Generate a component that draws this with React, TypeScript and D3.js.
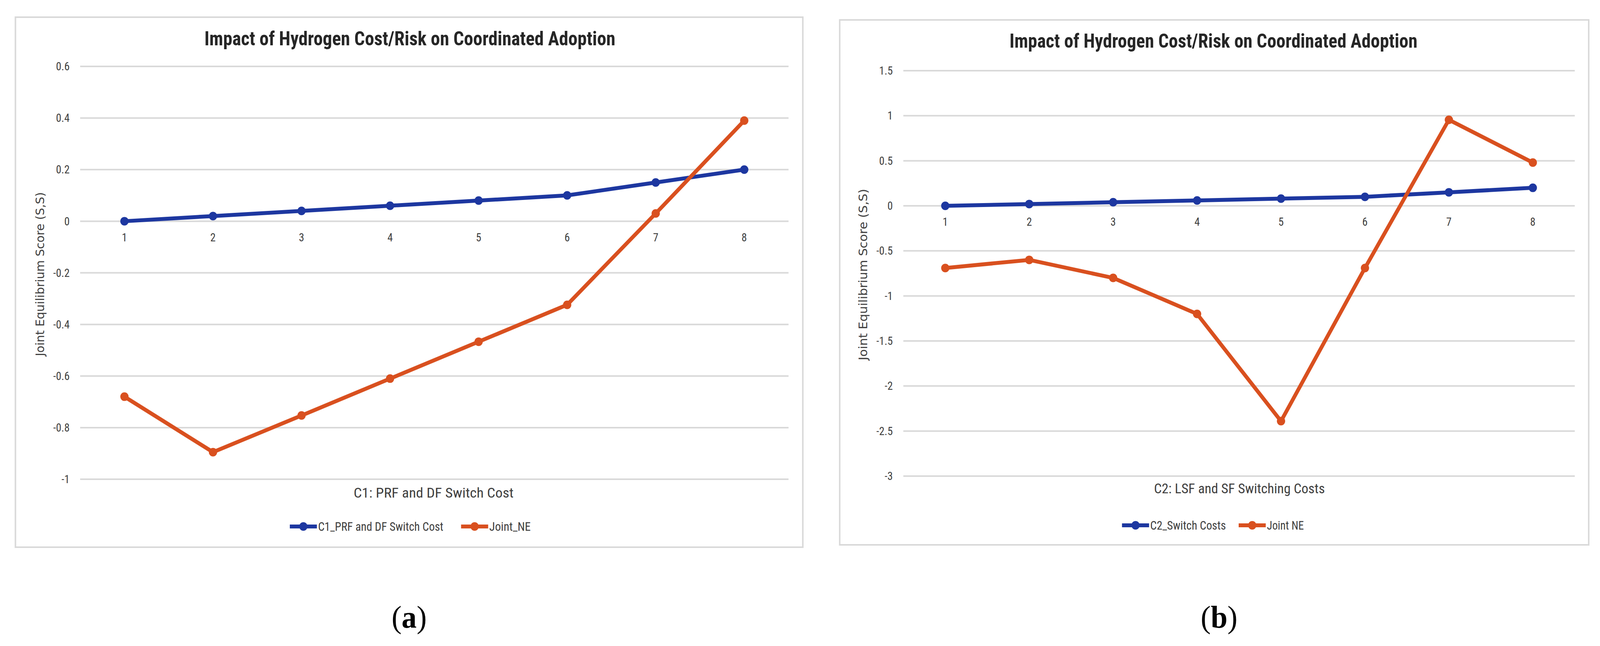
import * as d3 from 'd3';

const categories = ['1', '2', '3', '4', '5', '6', '7', '8'];

const c1SwitchCost = [0, 0.02, 0.04, 0.06, 0.08, 0.1, 0.15, 0.2];
const c1JointNE = [-0.68, -0.895, -0.753, -0.61, -0.467, -0.324, 0.03, 0.39];
const c1Ticks = [-1, -0.8, -0.6, -0.4, -0.2, 0, 0.2, 0.4, 0.6];

const c2SwitchCosts = [0, 0.02, 0.04, 0.06, 0.08, 0.1, 0.15, 0.2];
const c2JointNE = [-0.69, -0.6, -0.8, -1.2, -2.39, -0.69, 0.955, 0.48];
const c2Ticks = [-3, -2.5, -2, -1.5, -1, -0.5, 0, 0.5, 1, 1.5];

const W = 4251;
const H = 1654;
const BLUE = '#1d37a0';
const ORANGE = '#d9501f';
const GRID = '#d9d9d9';
const NARROW = '"Liberation Sans Narrow", "Roboto Condensed", "Liberation Sans", Arial, sans-serif';

interface Series {
    name: string;
    values: number[];
    color: string;
    // legend entry: start x, text length
    lx: number;
    tlen: number;
}

interface PanelProps {
    frame: { x: number; y: number; w: number; h: number };
    plotX: [number, number];
    plotY: [number, number]; // pixel of min tick, pixel of max tick
    ticks: number[];
    title: { cx: number; y: number; len: number };
    yTitle: { cx: number; cy: number; len: number };
    xTitle: { text: string; cx: number; cy: number; len: number };
    legendY: number;
    series: Series[];
}

function Panel({ frame, plotX, plotY, ticks, title, yTitle, xTitle, legendY, series }: PanelProps) {
    const x = d3.scaleBand<string>().domain(categories).range(plotX);
    const y = d3.scaleLinear()
        .domain([d3.min(ticks)!, d3.max(ticks)!])
        .range(plotY);
    const cx = (c: string) => (x(c) ?? 0) + x.bandwidth() / 2;
    const line = d3.line<number>()
        .x((_, i) => cx(categories[i]))
        .y(v => y(v));

    return (
        <g>
            <rect x={frame.x} y={frame.y} width={frame.w} height={frame.h}
                fill="#fff" stroke={GRID} strokeWidth={4} />

            {/* Title */}
            <text x={title.cx} y={title.y} textAnchor="middle" fontFamily={NARROW}
                fontWeight="bold" fontSize={50} fill="#262626"
                textLength={title.len} lengthAdjust="spacingAndGlyphs">
                Impact of Hydrogen Cost/Risk on Coordinated Adoption
            </text>

            {/* Grid + y ticks */}
            {ticks.map(t => (
                <g key={t}>
                    <line x1={plotX[0]} x2={plotX[1]} y1={y(t)} y2={y(t)}
                        stroke={GRID} strokeWidth={4} />
                    <text x={plotX[0] - 28} y={y(t)} dy="0.35em" textAnchor="end"
                        fontFamily={NARROW} fontSize={29} fill="#404040">
                        {t}
                    </text>
                </g>
            ))}

            {/* x category labels below the zero line */}
            {categories.map(c => (
                <text key={c} x={cx(c)} y={y(0) + 41} dy="0.35em" textAnchor="middle"
                    fontFamily={NARROW} fontSize={29} fill="#404040">
                    {c}
                </text>
            ))}

            {/* Axis titles */}
            <text transform={`translate(${yTitle.cx},${yTitle.cy}) rotate(-90)`}
                textAnchor="middle" dy="0.35em" fontFamily='"DejaVu Sans", Verdana, sans-serif'
                fontSize={31} fill="#404040" textLength={yTitle.len} lengthAdjust="spacingAndGlyphs">
                Joint Equilibrium Score (S,S)
            </text>
            <text x={xTitle.cx} y={xTitle.cy} dy="0.35em" textAnchor="middle"
                fontFamily={NARROW} fontSize={35} fill="#404040"
                textLength={xTitle.len} lengthAdjust="spacingAndGlyphs">
                {xTitle.text}
            </text>

            {/* Series */}
            {series.map(s => (
                <g key={s.name}>
                    <path d={line(s.values) ?? ''} fill="none" stroke={s.color}
                        strokeWidth={10} strokeLinejoin="round" strokeLinecap="round" />
                    {s.values.map((v, i) => (
                        <circle key={i} cx={cx(categories[i])} cy={y(v)} r={11} fill={s.color} />
                    ))}
                </g>
            ))}

            {/* Legend */}
            {series.map(s => (
                <g key={'lg' + s.name}>
                    <line x1={s.lx} x2={s.lx + 72} y1={legendY} y2={legendY}
                        stroke={s.color} strokeWidth={10} />
                    <circle cx={s.lx + 36} cy={legendY} r={11} fill={s.color} />
                    <text x={s.lx + 75} y={legendY} dy="0.35em" fontFamily={NARROW}
                        fontSize={31} fill="#404040" textLength={s.tlen}
                        lengthAdjust="spacingAndGlyphs">
                        {s.name}
                    </text>
                </g>
            ))}
        </g>
    );
}

export default function App() {
    return (
        <svg viewBox={`0 0 ${W} ${H}`} preserveAspectRatio="none"
            style={{ position: 'absolute', left: 0, top: 0, width: '100vw', height: '100vh', display: 'block', background: '#fff' }}>
            <rect width={W} height={H} fill="#fff" />
            <Panel
                frame={{ x: 41, y: 44, w: 2092, h: 1357 }}
                plotX={[213, 2095]}
                plotY={[1227, 170]}
                ticks={c1Ticks}
                title={{ cx: 1089, y: 116, len: 1092 }}
                yTitle={{ cx: 106, cy: 702, len: 420 }}
                xTitle={{ text: 'C1: PRF and  DF Switch Cost', cx: 1152, cy: 1262, len: 425 }}
                legendY={1348}
                series={[
                    { name: 'C1_PRF and DF Switch Cost', values: c1SwitchCost, color: BLUE, lx: 770, tlen: 333 },
                    { name: 'Joint_NE', values: c1JointNE, color: ORANGE, lx: 1225, tlen: 110 },
                ]}
            />
            <Panel
                frame={{ x: 2231, y: 51, w: 1990, h: 1344 }}
                plotX={[2400, 4184]}
                plotY={[1219, 181]}
                ticks={c2Ticks}
                title={{ cx: 3224, y: 122, len: 1084 }}
                yTitle={{ cx: 2293, cy: 703, len: 439 }}
                xTitle={{ text: 'C2: LSF and SF Switching Costs', cx: 3293, cy: 1251, len: 454 }}
                legendY={1345}
                series={[
                    { name: 'C2_Switch Costs', values: c2SwitchCosts, color: BLUE, lx: 2981, tlen: 201 },
                    { name: 'Joint NE', values: c2JointNE, color: ORANGE, lx: 3291, tlen: 98 },
                ]}
            />
            {/* Sub-figure captions */}
            <text x={1087} y={1607} textAnchor="middle" fontFamily='"Liberation Serif", "Times New Roman", serif'
                fontSize={80} fill="#000">
                (<tspan fontWeight="bold">a</tspan>)
            </text>
            <text x={3239} y={1607} textAnchor="middle" fontFamily='"Liberation Serif", "Times New Roman", serif'
                fontSize={80} fill="#000">
                (<tspan fontWeight="bold">b</tspan>)
            </text>
        </svg>
    );
}
